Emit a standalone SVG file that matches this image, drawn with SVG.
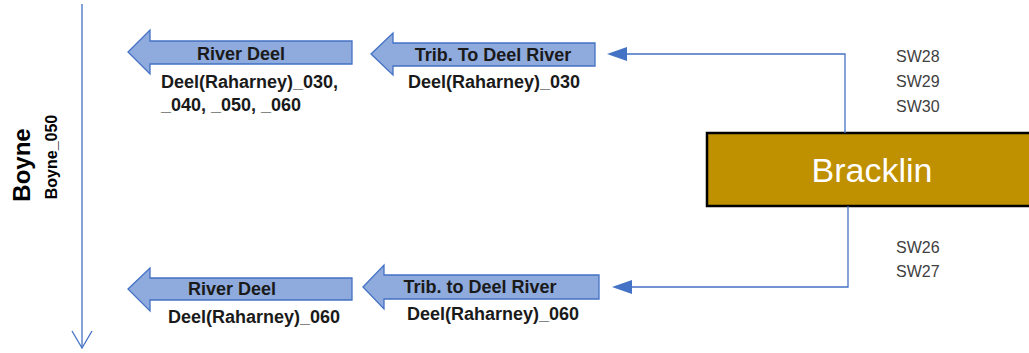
<svg xmlns="http://www.w3.org/2000/svg" width="1029" height="353" viewBox="0 0 1029 353">
<defs>
<marker id="tri" viewBox="0 0 10 10" refX="0" refY="5" markerWidth="10" markerHeight="10" markerUnits="userSpaceOnUse" orient="auto">
<path d="M0,5 L10,0 L10,10 Z" fill="#4472C4"/>
</marker>
<style>
.fat{fill:#8FAADC;stroke:#4472C4;stroke-width:1.3}
.lbl{font-family:"Liberation Sans",Arial,sans-serif;font-weight:bold;font-size:18px;fill:#1a1a1a}
.sw{font-family:"Liberation Sans",Arial,sans-serif;font-size:16px;fill:#404040}
.con{fill:none;stroke:#4472C4;stroke-width:1.3}
</style>
</defs>
<rect width="1029" height="353" fill="#ffffff"/>
<g id="boyne">
<line x1="82" y1="4" x2="82" y2="348" stroke="#4472C4" stroke-width="1.3"/>
<polyline points="72,331 82,348 92,331" fill="none" stroke="#4472C4" stroke-width="1.3"/>
<text x="30" y="165" transform="rotate(-90 30 165)" text-anchor="middle" font-family="Liberation Sans, Arial, sans-serif" font-weight="bold" font-size="24" fill="#000">Boyne</text>
<text x="57" y="157" transform="rotate(-90 57 157)" text-anchor="middle" font-family="Liberation Sans, Arial, sans-serif" font-weight="bold" font-size="16" fill="#000">Boyne_050</text>
</g>
<g id="river-deel-top">
<path class="fat" d="M128,52 L150,30 L150,41 L352,41 L352,64 L150,64 L150,74 Z"/>
<text class="lbl" x="241" y="60" text-anchor="middle">River Deel</text>
<text class="lbl" x="161" y="88">Deel(Raharney)_030,</text>
<text class="lbl" x="161" y="111">_040, _050, _060</text>
</g>
<g id="trib-top">
<path class="fat" d="M371,54 L393,33 L393,43 L595,43 L595,66 L393,66 L393,75 Z"/>
<text class="lbl" x="493" y="61" text-anchor="middle">Trib. To Deel River</text>
<text class="lbl" x="494" y="88" text-anchor="middle">Deel(Raharney)_030</text>
</g>
<g id="river-deel-bottom">
<path class="fat" d="M128,289 L150,268 L150,278 L352,278 L352,300 L150,300 L150,311 Z"/>
<text class="lbl" x="232" y="295" text-anchor="middle">River Deel</text>
<text class="lbl" x="254" y="323" text-anchor="middle">Deel(Raharney)_060</text>
</g>
<g id="trib-bottom">
<path class="fat" d="M363,287 L384,265 L384,275 L599,275 L599,299 L384,299 L384,309 Z"/>
<text class="lbl" x="480" y="293" text-anchor="middle">Trib. to Deel River</text>
<text class="lbl" x="493" y="320" text-anchor="middle">Deel(Raharney)_060</text>
</g>
<g id="bracklin">
<rect x="707" y="133" width="330" height="73" fill="#BF9000" stroke="#000" stroke-width="2.5"/>
<text x="872" y="182" text-anchor="middle" font-family="Liberation Sans, Arial, sans-serif" font-size="34" fill="#ffffff">Bracklin</text>
</g>
<g id="sw-labels">
<text class="sw" x="896" y="62">SW28</text>
<text class="sw" x="896" y="87">SW29</text>
<text class="sw" x="896" y="112">SW30</text>
<text class="sw" x="896" y="253">SW26</text>
<text class="sw" x="896" y="277">SW27</text>
</g>
<g id="connectors">
<path class="con" d="M845,133 L845,54 L627,54"/>
<path d="M607,54 L627,47 L627,61 Z" fill="#4472C4"/>
<path class="con" d="M848,206 L848,287 L630,287"/>
<path d="M612,287 L632,280 L632,294 Z" fill="#4472C4"/>
</g>
</svg>
